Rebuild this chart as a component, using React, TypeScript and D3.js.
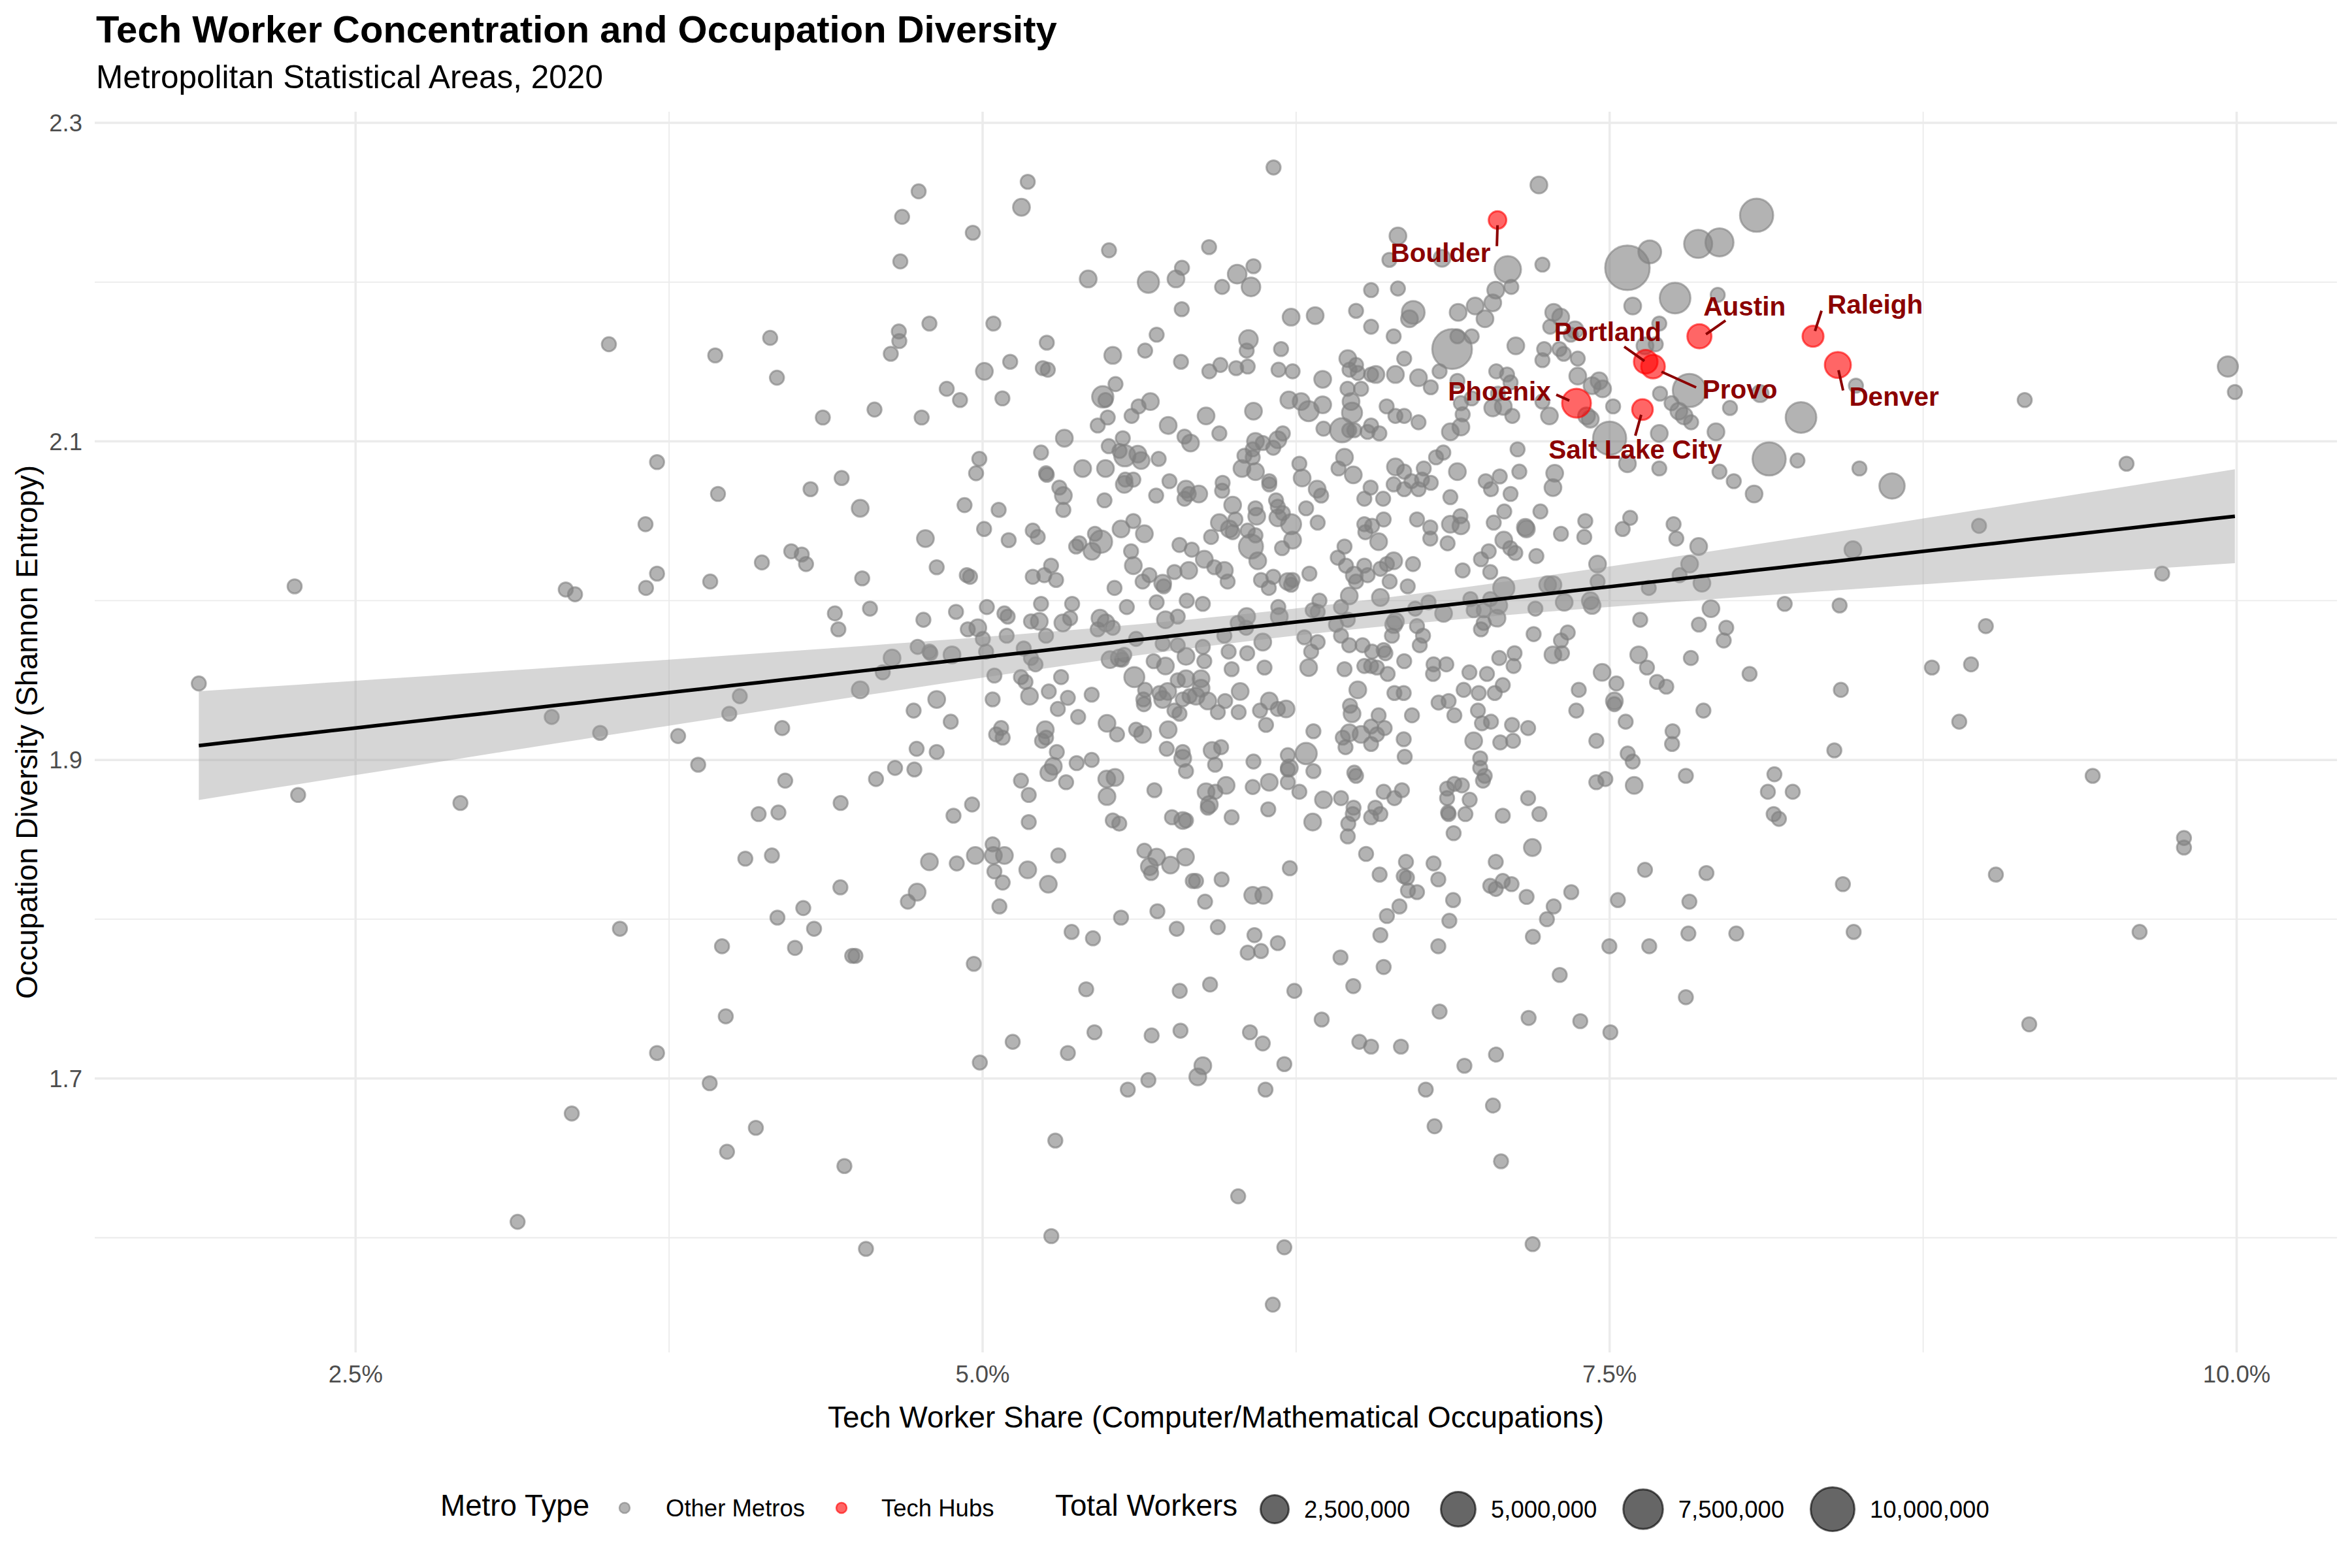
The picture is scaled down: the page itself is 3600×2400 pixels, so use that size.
import React from "react";
import * as d3 from "d3";

const W = 3600;
const H = 2400;
const FONT = "'Liberation Sans', Arial, Helvetica, sans-serif";

const xTicks = [2.5, 5.0, 7.5, 10.0];
const xMinor = [3.75, 6.25, 8.75];
const yTicks = [1.7, 1.9, 2.1, 2.3];
const yMinor = [1.6, 1.8, 2.0, 2.2];
const sizeBreaks = [2500000, 5000000, 7500000, 10000000];
const metroTypes = ["Other Metros", "Tech Hubs"];

const hubNames = ["Boulder", "Austin", "Raleigh", "Denver", "Portland", "Provo", "Phoenix", "Salt Lake City"];
const hubShare = [7.053, 7.858, 8.311, 8.41, 7.644, 7.673, 7.368, 7.631];
const hubDiversity = [2.239, 2.166, 2.166, 2.148, 2.15, 2.147, 2.124, 2.12];
const hubWorkersK = [280, 1400, 760, 1900, 1300, 1300, 2760, 700];

// linear fit (end points of the fitted line)
const trendShare = [1.875, 9.993];
const trendDiversity = [1.909, 2.053];

// [tech share %, Shannon entropy, total workers (thousands)]
const otherMetros: [number, number, number][] = [
  [1.875,1.948,30],[2.257,2.009,30],[2.271,1.878,30],[2.918,1.873,30],[3.146,1.610,30],[3.282,1.927,30],[3.338,2.007,30],[3.375,2.004,30],[3.362,1.678,30],[3.475,1.917,30],[3.510,2.161,30],[3.554,1.794,30],[3.656,2.048,30],[3.658,2.008,30],[3.702,2.017,30],[3.702,2.087,30],[3.702,1.716,30],[3.786,1.915,30],[3.866,1.897,30],[3.912,1.697,30],[3.914,2.012,30],[3.934,2.154,30],[3.945,2.067,30],[3.961,1.783,30],[3.976,1.739,30],[3.981,1.654,30],[3.990,1.929,30],[4.032,1.940,30],[4.054,1.838,30],[4.096,1.669,30],[4.107,1.866,30],[4.120,2.024,30],[4.153,2.165,30],[4.160,1.840,30],[4.180,2.140,30],[4.182,1.801,30],[4.186,1.867,30],[4.201,1.920,30],[4.213,1.887,30],[4.237,2.031,30],[4.279,2.029,30],[4.296,2.023,30],[4.252,1.782,30],[4.285,1.807,30],[4.314,2.070,30],[4.328,1.794,30],[4.363,2.115,30],[4.411,1.992,30],[4.425,1.982,30],[4.433,1.820,30],[4.434,1.873,30],[4.438,2.077,30],[4.449,1.645,30],
  [4.745,2.257,30],[4.679,2.241,30],[5.155,2.247,200],[4.961,2.231,30],[4.672,2.213,30],[5.504,2.220,30],[5.903,2.222,30],[5.421,2.202,200],[5.661,2.200,800],[5.795,2.209,30],[5.771,2.202,200],[5.955,2.197,30],[6.015,2.205,400],[6.070,2.197,400],[6.080,2.210,30],[5.794,2.183,30],[6.230,2.178,200],[6.326,2.179,200],[6.489,2.182,30],[6.549,2.195,30],
  [4.666,2.169,30],[4.668,2.163,30],[4.788,2.174,30],[5.043,2.174,30],[4.634,2.155,30],[5.256,2.162,30],[5.694,2.167,30],[5.519,2.154,200],[5.648,2.157,30],[5.791,2.150,30],[6.060,2.164,400],[6.053,2.157,30],[6.190,2.158,30],[6.549,2.172,30],[5.110,2.150,30],[5.007,2.144,200],[5.240,2.146,30],[5.260,2.145,30],[5.904,2.144,30],[5.948,2.148,30],[6.011,2.146,30],[6.057,2.147,30],[6.180,2.145,30],[6.236,2.144,30],[6.356,2.139,200],[6.456,2.152,200],[6.463,2.145,30],[6.489,2.148,30],[6.496,2.143,30],[6.509,2.133,30],[6.549,2.142,30],
  [4.857,2.133,30],[4.910,2.126,30],[5.079,2.127,30],[4.569,2.120,30],[4.757,2.115,30],[5.530,2.136,30],[5.479,2.128,800],[5.490,2.126,30],[5.499,2.115,30],[5.459,2.110,30],[5.669,2.125,200],[5.622,2.122,30],[5.594,2.116,30],[5.740,2.110,200],[5.891,2.116,200],[6.080,2.119,200],[5.944,2.105,30],[5.805,2.103,30],[5.829,2.099,200],[6.221,2.126,200],[6.270,2.125,200],[6.300,2.119,600],[6.356,2.123,200],[6.469,2.125,200],[6.473,2.118,600],[6.433,2.107,1400],[6.462,2.107,30],[6.482,2.107,30],[6.549,2.110,30],[6.535,2.106,30],[6.359,2.108,30],
  [5.326,2.102,200],[5.233,2.093,30],[4.987,2.089,30],[4.974,2.080,30],[5.503,2.097,30],[5.559,2.102,30],[5.546,2.094,30],[5.567,2.091,800],[5.619,2.092,200],[5.632,2.088,200],[5.702,2.089,30],[5.399,2.083,200],[5.490,2.083,200],[5.253,2.080,30],[5.256,2.079,30],[5.306,2.071,30],[5.322,2.066,200],[5.322,2.057,30],[5.569,2.076,30],[5.601,2.076,30],[5.565,2.073,200],[5.745,2.075,30],[5.692,2.066,30],[5.486,2.063,30],[5.811,2.070,200],[5.822,2.067,30],[5.805,2.064,30],[5.862,2.067,200],[5.957,2.074,30],[5.955,2.069,30],
  [6.088,2.100,200],[6.117,2.099,30],[6.077,2.095,30],[6.177,2.101,200],[6.159,2.096,30],[6.197,2.105,30],[6.044,2.091,30],[6.077,2.090,30],[6.034,2.083,200],[6.088,2.081,200],[6.263,2.086,30],[6.274,2.077,200],[6.443,2.090,200],[6.419,2.083,30],[6.478,2.079,200],[6.143,2.075,30],[6.143,2.073,30],[6.334,2.070,200],[6.350,2.066,30],[6.522,2.064,30],[5.997,2.060,200],[6.088,2.058,30],[6.093,2.053,200],[6.170,2.063,30],[6.177,2.059,30],[6.290,2.058,30],[5.944,2.049,200],[5.984,2.045,200],[6.008,2.051,30],[5.997,2.043,30],[6.057,2.044,30],[6.070,2.034,1400],[6.088,2.041,30],[6.097,2.025,200],[6.177,2.052,200],[6.197,2.055,30],[6.230,2.048,600],[6.236,2.038,200],[6.194,2.033,30],[6.336,2.049,30],[6.522,2.048,30],[6.526,2.043,30],
  [6.443,2.034,30],[6.416,2.027,30],[6.449,2.022,30],[6.482,2.016,200],[6.489,2.012,30],[6.522,2.022,30],[6.535,2.016,30],[6.303,2.017,30],[6.110,2.013,30],[6.141,2.008,30],[6.159,2.015,30],[6.217,2.012,200],[6.230,2.010,30],[6.236,2.013,30],[5.911,2.040,30],[5.785,2.035,30],[5.834,2.032,30],[5.884,2.026,200],[5.924,2.021,30],[5.964,2.019,200],[5.977,2.012,30],[5.822,2.019,200],[5.765,2.018,30],[5.718,2.011,200],[5.722,2.009,30],[5.665,2.016,30],[5.638,2.012,30],[5.601,2.022,200],[5.592,2.031,30],[5.552,2.045,200],[5.601,2.050,30],[5.645,2.042,200],[5.448,2.042,30],[5.472,2.037,1000],[5.436,2.031,200],[5.373,2.034,30],[5.386,2.036,30],[5.200,2.044,30],[5.220,2.040,30],[5.104,2.038,30],[5.006,2.045,30],[4.928,2.060,30],[5.064,2.057,30],[4.772,2.039,200],[4.512,2.058,200],[4.817,2.021,30],[4.520,2.014,30],[4.937,2.016,30],[4.950,2.015,30],[5.200,2.015,30],[5.246,2.016,30],[5.273,2.022,30],[5.293,2.013,30],[5.526,2.008,30],
  [4.551,1.995,30],[4.764,1.988,30],[4.894,1.993,30],[5.017,1.996,30],[5.087,1.992,30],[5.100,1.990,30],[4.941,1.982,30],[4.981,1.983,200],[5.001,1.976,30],[5.096,1.978,30],[5.193,1.987,30],[5.226,1.987,200],[5.233,1.998,30],[5.253,1.978,30],[5.357,1.998,30],[5.320,1.986,200],[5.349,1.989,30],[5.468,1.989,200],[5.492,1.986,200],[5.519,1.983,30],[5.459,1.982,30],[5.575,1.996,30],[5.694,1.999,30],[5.814,2.000,30],[5.878,1.998,30],[5.778,1.990,30],[5.729,1.988,200],[5.612,1.976,30],[6.053,1.990,200],[6.017,1.986,30],[6.051,1.983,30],[5.964,1.978,30],[6.117,1.974,200],[6.179,1.996,30],[6.183,1.990,200],[6.343,2.000,30],[6.316,1.994,30],[6.336,1.993,30],[6.462,2.003,200],[6.429,1.996,30],[6.456,1.988,30],[6.409,1.985,30],[6.429,1.978,30],[6.462,1.972,30],[6.283,1.977,30],[6.336,1.974,30],[6.310,1.968,30],[6.515,1.972,30],[5.878,1.971,30],[5.718,1.973,30],[5.778,1.972,30],[4.741,1.971,30],[4.788,1.968,30],[5.014,1.968,30],[5.164,1.970,30],
  [4.639,1.964,200],[4.602,1.955,30],[4.512,1.944,200],[4.792,1.967,30],[4.878,1.966,200],[5.047,1.953,30],[5.153,1.952,30],[5.171,1.949,30],[5.187,1.940,200],[5.193,1.964,30],[5.211,1.960,30],[5.313,1.952,30],[5.264,1.943,30],[5.340,1.939,30],[5.435,1.941,30],[5.300,1.932,30],[5.381,1.927,30],[5.040,1.938,30],[4.817,1.938,200],[4.725,1.931,30],[4.873,1.924,30],[4.737,1.907,30],[4.817,1.905,30],[4.651,1.895,30],[4.728,1.894,30],[4.575,1.888,30],
  [5.074,1.920,30],[5.054,1.916,30],[5.080,1.914,30],[5.250,1.919,200],[5.253,1.914,30],[5.237,1.912,30],[5.296,1.905,30],[5.282,1.896,200],[5.264,1.892,200],[5.375,1.898,30],[5.435,1.900,30],[5.333,1.886,30],[5.153,1.887,30],[5.184,1.878,30],[5.184,1.861,30],[4.884,1.865,30],[4.958,1.872,30],[5.496,1.923,200],[5.536,1.916,30],[5.612,1.919,30],[5.638,1.916,200],[5.495,1.888,200],[5.528,1.889,200],[5.496,1.877,200],[5.519,1.862,30],[5.545,1.860,30],[5.685,1.881,30],[5.740,1.919,200],[5.734,1.907,30],[5.798,1.905,30],[5.798,1.901,200],[5.811,1.893,30],[5.915,1.906,200],[5.951,1.908,30],[5.927,1.897,30],[5.891,1.880,200],[5.928,1.880,30],[5.971,1.884,200],[5.904,1.872,200],[5.898,1.870,30],[5.755,1.864,30],[5.798,1.862,200],[5.811,1.862,30],[5.993,1.864,30],[6.080,1.899,30],[6.077,1.883,30],[6.143,1.886,200],[6.139,1.869,30],[6.217,1.903,30],[6.223,1.895,200],[6.217,1.894,30],[6.217,1.886,30],[6.290,1.904,800],[6.263,1.880,30],[6.319,1.893,30],[6.319,1.918,30],[6.316,1.861,200],[6.359,1.875,200],[6.429,1.876,30],[6.482,1.892,30],[6.489,1.890,30],[6.479,1.870,30],[6.476,1.866,30],[6.458,1.860,30],[6.456,1.852,30],[6.436,1.914,30],[6.447,1.908,30],[6.462,1.917,200],[6.509,1.916,200],[6.549,1.921,30],[6.549,1.910,30],[6.549,1.864,30],[6.529,1.841,30],[6.496,1.944,200],[6.465,1.934,30],[6.473,1.929,200],[6.443,1.957,30],[6.522,1.959,30],[6.549,1.959,30],[6.300,1.958,200],[6.124,1.958,30],[6.106,1.931,30],[6.130,1.922,30],[6.177,1.932,30],[6.210,1.932,200],[6.143,1.937,200],[6.021,1.930,30],[6.027,1.943,200],[5.993,1.957,30],[5.938,1.930,30],[5.967,1.937,30],[6.055,1.967,30],[5.981,1.968,30],[5.884,1.962,30],[5.871,1.951,200],[5.898,1.937,200],[5.851,1.940,200],[5.871,1.945,200],[5.811,1.951,200],[5.811,1.965,200],[5.778,1.950,30],[5.798,1.938,30],[5.825,1.940,30],[5.765,1.931,30],[5.785,1.929,30],[5.738,1.943,200],[5.705,1.942,30],[5.718,1.938,200],[5.682,1.962,30],[5.729,1.959,200],[5.605,1.952,600],[5.648,1.944,30],[5.641,1.938,30],[5.643,1.935,30],[5.508,1.963,200],[5.545,1.964,200],[5.565,1.966,30],[5.556,1.963,30],
  [5.040,1.847,30],[5.043,1.840,200],[5.087,1.840,200],[4.971,1.840,200],[4.897,1.835,30],[4.788,1.836,200],[5.047,1.830,30],[5.080,1.823,30],[5.067,1.808,30],[5.180,1.831,200],[5.262,1.822,200],[5.302,1.840,30],[4.739,1.817,200],[4.702,1.811,30],[5.645,1.843,30],[5.694,1.839,200],[5.665,1.833,200],[5.672,1.829,30],[5.749,1.834,200],[5.809,1.839,200],[5.838,1.824,30],[5.851,1.824,30],[5.953,1.825,30],[5.887,1.811,30],[6.077,1.815,200],[6.121,1.815,200],[6.225,1.832,30],[5.697,1.805,30],[5.552,1.801,30],[5.355,1.792,30],[5.440,1.788,30],[5.774,1.794,30],[5.938,1.795,30],[6.084,1.790,30],[6.057,1.779,30],[6.110,1.780,30],[6.177,1.785,30],[6.427,1.776,30],[6.478,1.758,30],[6.352,1.737,30],[6.243,1.755,30],[5.907,1.759,30],[5.786,1.755,30],[5.413,1.756,30],[5.446,1.729,30],[5.674,1.727,30],[5.789,1.730,30],[6.066,1.729,30],[6.117,1.722,30],[6.502,1.723,30],[6.549,1.720,30],[5.120,1.723,30],[5.340,1.716,30],[4.989,1.710,30],[5.878,1.708,200],[5.858,1.701,200],[5.661,1.699,30],[6.203,1.709,30],[5.579,1.693,30],[6.128,1.693,30],[4.493,1.777,30],[4.480,1.777,30],[4.965,1.772,30],
  [5.290,1.661,30],[6.019,1.626,30],[5.274,1.601,30],[4.535,1.593,30],[6.203,1.594,30],[6.157,1.558,30],
  [6.599,1.770,30],[7.301,1.765,30],[7.804,1.751,30],[6.822,1.742,30],[7.177,1.738,30],[7.383,1.736,30],[7.503,1.729,30],[6.668,1.720,30],[7.047,1.715,30],[6.921,1.708,30],[6.767,1.693,30],[7.035,1.683,30],[6.802,1.670,30],[7.067,1.648,30],[7.193,1.596,30],
  [6.599,2.051,30],[6.553,2.047,30],[6.732,2.051,30],[6.785,2.046,30],[6.865,2.048,200],[6.907,2.047,200],[6.905,2.053,30],[7.038,2.049,30],[7.080,2.056,30],[7.164,2.046,200],[7.168,2.045,200],[7.224,2.056,30],[7.306,2.042,30],[7.403,2.050,30],[7.399,2.040,30],[7.582,2.052,30],[7.552,2.045,30],[7.755,2.048,30],[7.766,2.039,30],[6.579,2.037,200],[6.785,2.039,30],[6.854,2.036,30],[7.078,2.038,200],[7.104,2.033,30],[7.124,2.030,30],[7.018,2.031,30],[6.987,2.026,30],[7.208,2.028,30],[7.452,2.023,200],[7.855,2.034,200],[7.819,2.023,200],[7.779,2.016,30],[7.868,2.011,200],[7.656,2.008,30],[7.904,1.995,200],[8.198,1.998,30],[8.417,1.997,30],[8.470,2.032,200],
  [6.586,2.020,30],[6.612,2.023,30],[6.639,2.025,200],[6.716,2.023,30],[6.914,2.019,30],[7.024,2.018,30],[6.623,2.012,30],[6.695,2.009,30],[7.078,2.008,800],[7.253,2.010,200],[7.274,2.010,200],[7.452,2.012,30],[6.586,2.002,200],[6.778,1.999,30],[6.945,2.001,30],[7.024,2.001,30],[7.058,1.997,200],[6.958,1.994,30],[6.998,1.994,30],[7.204,1.995,30],[7.319,1.999,200],[7.423,2.000,200],[7.430,1.997,200],[6.725,1.995,30],[6.838,1.992,200],[7.051,1.989,200],[6.639,1.985,200],[6.646,1.987,200],[6.732,1.984,30],[6.998,1.986,30],[6.987,1.982,30],[6.632,1.978,30],[6.756,1.978,30],[7.197,1.979,30],[7.333,1.980,30],[7.306,1.975,30],[7.274,1.966,200],[7.310,1.967,30],[6.599,1.969,30],[6.606,1.967,30],[6.553,1.968,30],[6.743,1.972,30],[7.060,1.964,30],[7.121,1.967,30],[7.117,1.959,30],[6.681,1.962,30],[6.798,1.960,30],[6.796,1.954,30],[6.849,1.960,30],[6.572,1.958,30],[6.615,1.954,30],[6.941,1.955,30],[7.011,1.954,30],[6.642,1.942,30],[6.679,1.942,30],[6.918,1.944,30],[6.978,1.942,30],[7.042,1.942,30],[7.074,1.947,30],[6.818,1.936,30],[6.858,1.937,30],[6.579,1.928,30],[6.712,1.928,30],[6.881,1.928,30],[6.975,1.931,30],[6.991,1.923,30],[7.027,1.924,30],[7.111,1.922,30],[7.175,1.920,30],[6.572,1.916,30],[6.603,1.920,30],[6.679,1.913,30],[6.683,1.902,30],[6.958,1.912,200],[7.064,1.911,30],[7.115,1.912,30],[6.984,1.901,30],[6.984,1.895,30],[7.002,1.890,30],[6.995,1.887,30],[6.599,1.880,30],[6.672,1.881,30],[6.642,1.876,30],[6.852,1.882,30],[6.881,1.885,30],[6.911,1.884,30],[6.852,1.876,30],[6.942,1.875,30],[6.856,1.867,30],[6.925,1.866,30],[6.858,1.866,30],[6.566,1.870,30],[6.586,1.866,30],[6.878,1.854,30],[7.074,1.865,30],[7.175,1.876,30],[7.220,1.866,30],
  [7.377,1.944,30],[7.367,1.931,30],[7.527,1.948,30],[7.470,1.955,200],[7.519,1.937,200],[7.519,1.935,30],[7.564,1.924,30],[7.751,1.918,30],[7.749,1.910,30],[8.396,1.906,30],[7.572,1.904,30],[7.592,1.899,30],[7.447,1.912,30],[7.804,1.890,30],[8.157,1.891,30],[8.131,1.880,30],[8.230,1.880,30],[8.154,1.866,30],[8.175,1.863,30],[7.447,1.886,30],[7.483,1.888,30],[7.598,1.884,200],[7.616,1.966,200],[7.649,1.958,30],[7.689,1.949,30],[7.726,1.946,30],[7.824,1.964,30],[8.058,1.954,30],[8.422,1.944,30],[7.874,1.931,30],[7.622,1.988,30],[7.856,1.985,30],[7.965,1.983,30],[7.955,1.975,30],[7.641,1.831,30],[7.886,1.829,30],[8.430,1.822,30],[7.533,1.812,30],[7.818,1.811,30],[8.005,1.791,30],[7.814,1.791,30],[7.658,1.783,30],[7.499,1.783,30],[8.473,1.792,30],[7.347,1.817,30],[7.277,1.808,30],[7.250,1.800,30],[7.194,1.789,30],[7.169,1.814,30],[7.192,1.845,200],[7.046,1.836,30],[7.074,1.824,30],[7.109,1.822,30],[7.024,1.821,30],[7.046,1.819,30],[6.876,1.812,30],[6.861,1.799,30],[6.817,1.783,30],[6.798,1.835,30],[6.817,1.825,30],[6.688,1.836,30],[6.679,1.827,30],[6.692,1.826,30],[6.696,1.818,30],[6.732,1.817,30],[6.583,1.828,30],[6.662,1.808,30],[6.612,1.802,30],[6.586,1.790,30],
  [7.218,2.261,200],[8.086,2.242,4400],[6.656,2.229,200],[7.853,2.224,2500],[7.938,2.225,2500],[7.660,2.219,1100],[7.571,2.209,10500],[6.622,2.214,30],[6.832,2.215,200],[7.232,2.211,30],[7.094,2.208,2000],[6.656,2.196,30],[7.046,2.195,200],[7.108,2.197,30],[7.034,2.187,200],[6.717,2.181,1100],[6.702,2.177,200],[6.896,2.181,200],[6.964,2.185,200],[7.003,2.177,200],[6.639,2.166,30],[6.872,2.158,7600],[6.950,2.166,30],[6.893,2.166,30],[7.277,2.181,200],[7.305,2.178,200],[7.263,2.172,30],[7.126,2.160,200],[7.239,2.158,30],[7.300,2.158,30],[7.232,2.151,30],[7.317,2.155,30],[7.373,2.152,30],[7.362,2.170,200],[7.345,2.167,30],[7.592,2.185,200],[7.761,2.190,3400],[7.931,2.192,30],[7.698,2.174,30],[7.641,2.160,200],[7.684,2.161,30],
  [6.568,2.142,200],[6.646,2.142,200],[6.681,2.152,30],[6.738,2.140,200],[6.787,2.134,30],[6.822,2.144,30],[6.893,2.138,30],[6.907,2.124,30],[6.950,2.127,30],[6.914,2.117,30],[6.865,2.106,200],[6.907,2.109,200],[7.048,2.144,30],[7.091,2.142,30],[7.105,2.137,30],[7.055,2.130,30],[7.076,2.122,200],[7.034,2.121,200],[7.112,2.116,30],[7.373,2.141,200],[7.458,2.138,200],[7.430,2.135,200],[7.472,2.133,200],[7.408,2.116,200],[7.423,2.114,200],[7.260,2.116,200],[7.232,2.125,30],[7.514,2.122,30],[7.701,2.130,30],[7.747,2.124,30],[7.776,2.119,200],[7.797,2.116,200],[7.825,2.112,30],[7.818,2.132,4400],[7.980,2.121,30],[8.100,2.130,200],[7.924,2.106,200],[8.263,2.115,3400],[8.482,2.135,30],[7.698,2.105,200],[7.500,2.102,4400],[8.136,2.089,4400],[8.249,2.088,30],[8.496,2.083,30],[7.938,2.081,30],[7.995,2.075,30],[8.076,2.067,200],[7.698,2.083,30],[7.571,2.086,200],[7.133,2.095,30],[7.281,2.080,200],[7.274,2.071,200],[7.062,2.078,30],[7.006,2.075,30],[7.027,2.070,30],[7.140,2.081,30],[7.105,2.067,30],[6.893,2.081,200],[6.865,2.065,30],[6.759,2.083,30],[6.808,2.090,30],[6.837,2.093,30],[6.752,2.076,30],[6.787,2.074,30],[6.646,2.084,200],[6.681,2.081,30],[6.710,2.075,30],[6.738,2.070,30],[6.639,2.073,30],[6.681,2.070,30],[6.597,2.064,30],[6.547,2.071,30],[6.582,2.105,30],[6.611,2.122,30],[6.646,2.116,30],[6.455,2.133,30],[6.681,2.116,30],[6.738,2.112,30],
  [9.965,2.147,625],[9.993,2.131,30],[9.155,2.126,30],[9.561,2.086,30],[8.626,2.072,1700],[8.973,2.047,30],[9.703,2.017,30],[9.000,1.984,30],[8.785,1.958,30],[8.941,1.960,30],[8.894,1.924,30],[9.426,1.890,30],[9.790,1.851,30],[9.790,1.845,30],[9.040,1.828,30],[9.613,1.792,30],[9.173,1.734,30],
  [5.180,2.263,30],[6.160,2.272,30],
];

// label placement (pixel offsets from each hub point): text anchor and connector segment
const labelDx = [-87, 69, 95, 86, -58, 133, -118, -11];
const labelDy = [64, -32, -35, 62, -32, 49, -4, 75];
const segFrom = [[0, 8], [10, -3], [3, -8], [1, 8], [-2, -1], [13, 8], [-11, -4], [-2, 8]];
const segTo = [[-1, 40], [40, -24], [13, -39], [8, 39], [-33, -23], [66, 32], [-31, -13], [-11, 40]];

export default function App() {
  const x = d3.scaleLinear().domain([1.46, 10.4]).range([145, 3577]);
  const y = d3.scaleLinear().domain([1.528, 2.307]).range([2070, 171]);
  const r = d3.scaleSqrt().domain([0, 10000000]).range([11, 35]);
  const trend = d3.scaleLinear().domain(trendShare).range(trendDiversity);

  const [px0, px1] = x.range();
  const [py1, py0] = y.range();

  // confidence band width from the points' spread around the fitted line
  const pts: [number, number][] = [
    ...otherMetros.map((d) => [d[0], d[1]] as [number, number]),
    ...hubShare.map((s, i) => [s, hubDiversity[i]] as [number, number]),
  ];
  const n = pts.length;
  const xbar = d3.mean(pts, (d) => d[0]) as number;
  let sxx = 0;
  let sse = 0;
  pts.forEach((d) => {
    sxx += (d[0] - xbar) ** 2;
    sse += (d[1] - trend(d[0])) ** 2;
  });
  const s = Math.sqrt(sse / (n - 2));
  const grid = d3.range(81).map((i) => trendShare[0] + ((trendShare[1] - trendShare[0]) * i) / 80);
  const fit = grid.map((xv) => {
    const f = trend(xv);
    const se = s * Math.sqrt(1 / n + (xv - xbar) ** 2 / sxx);
    return { xv, f, lo: f - 1.963 * se, hi: f + 1.963 * se };
  });
  const area = d3.area<any>().x((d) => x(d.xv)).y0((d) => y(d.lo)).y1((d) => y(d.hi));
  const line = d3.line<any>().x((d) => x(d.xv)).y((d) => y(d.f));

  const gridColor = "#ebebeb";

  return (
    <svg width={W} height={H} style={{ position: "absolute", left: 0, top: 0, background: "#fff" }} fontFamily={FONT}>
      <rect width={W} height={H} fill="#fff" />
      {yMinor.map((v) => (
        <line key={"ym" + v} x1={px0} x2={px1} y1={y(v)} y2={y(v)} stroke={gridColor} strokeWidth={1.8} />
      ))}
      {xMinor.map((v) => (
        <line key={"xm" + v} x1={x(v)} x2={x(v)} y1={py0} y2={py1} stroke={gridColor} strokeWidth={1.8} />
      ))}
      {yTicks.map((v) => (
        <line key={"yg" + v} x1={px0} x2={px1} y1={y(v)} y2={y(v)} stroke={gridColor} strokeWidth={3.5} />
      ))}
      {xTicks.map((v) => (
        <line key={"xg" + v} x1={x(v)} x2={x(v)} y1={py0} y2={py1} stroke={gridColor} strokeWidth={3.5} />
      ))}

      <g>
        {otherMetros.map((d, i) => (
          <circle key={i} cx={x(d[0])} cy={y(d[1])} r={r(d[2] * 1000) - 1.5}
            fill="#808080" fillOpacity={0.6} stroke="#808080" strokeOpacity={0.6} strokeWidth={3} />
        ))}
      </g>

      <path d={area(fit) as string} fill="#999999" fillOpacity={0.4} />
      <path d={line(fit) as string} fill="none" stroke="#000" strokeWidth={5.5} />

      <g>
        {hubNames.map((nm, i) => (
          <circle key={nm} cx={x(hubShare[i])} cy={y(hubDiversity[i])} r={r(hubWorkersK[i] * 1000) - 1.5}
            fill="#FF0000" fillOpacity={0.6} stroke="#FF0000" strokeOpacity={0.6} strokeWidth={3} />
        ))}
      </g>
      <g>
        {hubNames.map((nm, i) => {
          const cx = x(hubShare[i]);
          const cy = y(hubDiversity[i]);
          return (
            <g key={"l" + nm}>
              <line x1={cx + segFrom[i][0]} y1={cy + segFrom[i][1]} x2={cx + segTo[i][0]} y2={cy + segTo[i][1]}
                stroke="#8B0000" strokeWidth={4} />
              <text x={cx + labelDx[i]} y={cy + labelDy[i]} textAnchor="middle" fontSize={40.5} fontWeight="bold" fill="#8B0000">
                {nm}
              </text>
            </g>
          );
        })}
      </g>

      {xTicks.map((v) => (
        <text key={"xt" + v} x={x(v)} y={2116} textAnchor="middle" fontSize={36.5} fill="#4d4d4d">
          {v.toFixed(1) + "%"}
        </text>
      ))}
      {yTicks.map((v) => (
        <text key={"yt" + v} x={126} y={y(v) + 13} textAnchor="end" fontSize={36.5} fill="#4d4d4d">
          {v.toFixed(1)}
        </text>
      ))}
      <text x={(px0 + px1) / 2} y={2185} textAnchor="middle" fontSize={45.8} fill="#000">
        Tech Worker Share (Computer/Mathematical Occupations)
      </text>
      <text transform={`translate(57, ${(py0 + py1) / 2}) rotate(-90)`} textAnchor="middle" fontSize={45.8} fill="#000">
        Occupation Diversity (Shannon Entropy)
      </text>

      <text x={147} y={65} fontSize={58} fontWeight="bold" fill="#000">
        Tech Worker Concentration and Occupation Diversity
      </text>
      <text x={147} y={135} fontSize={49.5} fill="#000">
        Metropolitan Statistical Areas, 2020
      </text>

      <g>
        <text x={674} y={2320} fontSize={45.8} fill="#000">Metro Type</text>
        <circle cx={956} cy={2308} r={8} fill="#808080" fillOpacity={0.6} stroke="#808080" strokeOpacity={0.6} strokeWidth={2.5} />
        <text x={1019} y={2321} fontSize={36.5} fill="#000">{metroTypes[0]}</text>
        <circle cx={1288} cy={2308} r={8} fill="#FF0000" fillOpacity={0.6} stroke="#FF0000" strokeOpacity={0.6} strokeWidth={2.5} />
        <text x={1349} y={2321} fontSize={36.5} fill="#000">{metroTypes[1]}</text>

        <text x={1615} y={2320} fontSize={45.8} fill="#000">Total Workers</text>
        {sizeBreaks.map((v, i) => {
          const cx = [1951, 2232, 2515, 2805][i];
          return (
            <g key={"sb" + v}>
              <circle cx={cx} cy={2310} r={r(v) - 1.5} fill="#000" fillOpacity={0.6} stroke="#000" strokeOpacity={0.6} strokeWidth={3} />
              <text x={cx + r(v) + 22} y={2323} fontSize={36.5} fill="#000">{d3.format(",")(v)}</text>
            </g>
          );
        })}
      </g>
    </svg>
  );
}
